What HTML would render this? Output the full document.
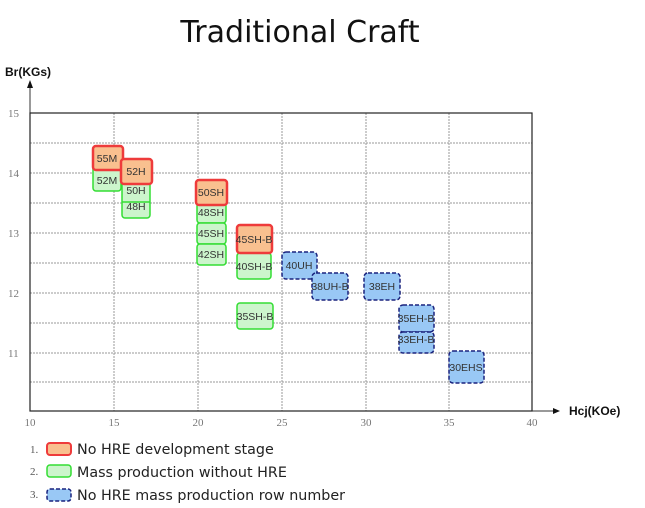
<!DOCTYPE html>
<html><head><meta charset="utf-8"><style>
html,body{margin:0;padding:0;background:#fff;}
svg{display:block;font-family:"Liberation Sans",sans-serif;}
</style></head><body>
<svg width="645" height="508" viewBox="0 0 645 508" xmlns="http://www.w3.org/2000/svg">
<text x="300" y="42" font-size="30" text-anchor="middle" fill="#111" font-family="DejaVu Sans, sans-serif">Traditional Craft</text>
<text x="5" y="76" font-size="12" font-weight="bold" fill="#111">Br(KGs)</text>
<line x1="30" y1="113" x2="30" y2="86" stroke="#333" stroke-width="1"/>
<polygon points="27,88 33,88 30,80" fill="#111"/>
<line x1="532" y1="411" x2="555" y2="411" stroke="#333"/>
<polygon points="553,408 553,414 560,411" fill="#111"/>
<text x="569" y="415" font-size="12" font-weight="bold" fill="#111">Hcj(KOe)</text>
<g stroke="#999" stroke-width="1" stroke-dasharray="2,1">
<line x1="30" y1="143" x2="532" y2="143"/><line x1="30" y1="173" x2="532" y2="173"/>
<line x1="30" y1="203" x2="532" y2="203"/><line x1="30" y1="233" x2="532" y2="233"/>
<line x1="30" y1="263" x2="532" y2="263"/><line x1="30" y1="293" x2="532" y2="293"/>
<line x1="30" y1="323" x2="532" y2="323"/><line x1="30" y1="353" x2="532" y2="353"/>
<line x1="30" y1="382" x2="532" y2="382"/>
<line x1="114" y1="113" x2="114" y2="411"/><line x1="198" y1="113" x2="198" y2="411"/>
<line x1="282" y1="113" x2="282" y2="411"/><line x1="366" y1="113" x2="366" y2="411"/>
<line x1="449" y1="113" x2="449" y2="411"/>
</g>
<rect x="30" y="113" width="502" height="298" fill="none" stroke="#222" stroke-width="1.2"/>
<g font-size="11" fill="#777" font-family="Liberation Serif,serif">
<text x="8" y="117">15</text><text x="8" y="177">14</text><text x="8" y="237">13</text>
<text x="8" y="297">12</text><text x="8" y="357">11</text>
<g text-anchor="middle"><text x="30" y="426">10</text><text x="114" y="426">15</text><text x="198" y="426">20</text><text x="282" y="426">25</text><text x="366" y="426">30</text><text x="449" y="426">35</text><text x="532" y="426">40</text></g>
</g>
<g font-size="10.5" fill="#333" text-anchor="middle">
<g fill="#ccf5cc" stroke="#33dd33" stroke-width="1.5">
<rect x="93" y="162" width="28" height="29" rx="3"/>
<rect x="122" y="172" width="28" height="46" rx="3"/>
<line x1="122" y1="202" x2="150" y2="202"/>
<rect x="197" y="203" width="29" height="20" rx="3"/>
<rect x="197" y="223" width="29" height="21" rx="3"/>
<rect x="197" y="244" width="29" height="21" rx="3"/>
<rect x="237" y="253" width="34" height="26" rx="3"/>
<rect x="237" y="303" width="36" height="26" rx="3"/>
</g>
<g fill="#f9c08f" stroke="#ee3b3b" stroke-width="2.5">
<rect x="93" y="146" width="30" height="24" rx="3"/>
<rect x="121" y="159" width="31" height="25" rx="3"/>
<rect x="196" y="180" width="31" height="25" rx="3"/>
<rect x="237" y="225" width="35" height="28" rx="3"/>
</g>
<g fill="#99c8f5" stroke="#1a237e" stroke-width="1.5" stroke-dasharray="4,2">
<rect x="282" y="252" width="35" height="27" rx="4"/>
<rect x="312" y="273" width="36" height="27" rx="4"/>
<rect x="364" y="273" width="36" height="27" rx="4"/>
<rect x="399" y="305" width="35" height="27" rx="4"/>
<rect x="399" y="332" width="35" height="21" rx="4"/>
<rect x="449" y="351" width="35" height="32" rx="4"/>
</g>
<text x="107" y="162">55M</text><text x="107" y="184">52M</text>
<text x="136" y="175">52H</text><text x="136" y="194">50H</text><text x="136" y="210">48H</text>
<text x="211" y="196">50SH</text><text x="211" y="216">48SH</text><text x="211" y="237">45SH</text><text x="211" y="258">42SH</text>
<text x="254" y="243">45SH-B</text><text x="254" y="270">40SH-B</text><text x="255" y="320">35SH-B</text>
<text x="299" y="269">40UH</text><text x="330" y="290">38UH-B</text><text x="382" y="290">38EH</text>
<text x="416" y="322">35EH-B</text><text x="416" y="343">33EH-B</text><text x="466" y="371">30EHS</text>
</g>
<g font-size="11" fill="#555" font-family="Liberation Serif,serif">
<text x="30" y="453">1.</text><text x="30" y="475">2.</text><text x="30" y="498">3.</text>
</g>
<rect x="47" y="443" width="24" height="12" rx="3" fill="#f9c08f" stroke="#ee3b3b" stroke-width="2"/>
<rect x="47" y="465" width="24" height="12" rx="3" fill="#ccf5cc" stroke="#33dd33" stroke-width="1.5"/>
<rect x="47" y="489" width="24" height="12" rx="3" fill="#99c8f5" stroke="#1a237e" stroke-width="1.5" stroke-dasharray="4,2"/>
<g font-size="14.3" fill="#222" font-family="DejaVu Sans,sans-serif">
<text x="77" y="454">No HRE development stage</text>
<text x="77" y="477">Mass production without HRE</text>
<text x="77" y="500">No HRE mass production row number</text>
</g>
</svg>
</body></html>
